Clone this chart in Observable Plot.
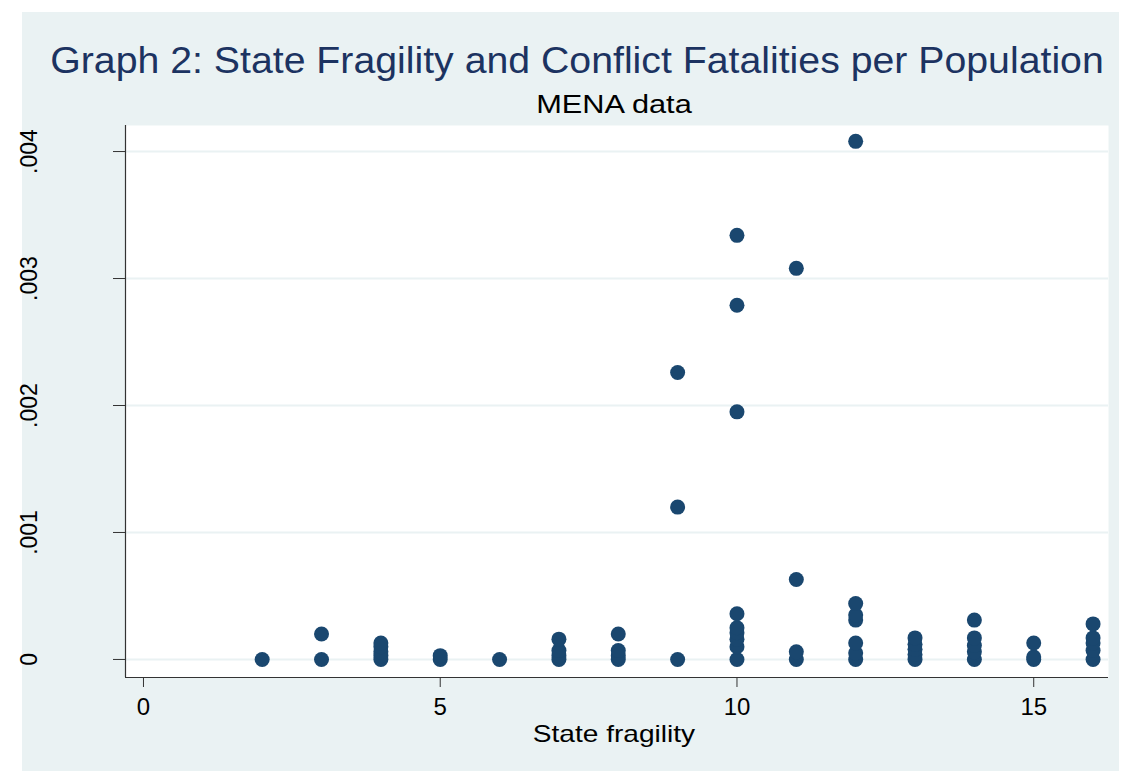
<!DOCTYPE html>
<html>
<head>
<meta charset="utf-8">
<script src="https://cdn.jsdelivr.net/npm/d3@7"></script>
<script src="https://cdn.jsdelivr.net/npm/@observablehq/plot@0.6"></script>
<style>
  html, body { margin: 0; padding: 0; background: #ffffff; }
  body { width: 1124px; height: 773px; position: relative; overflow: hidden; font-family: "Liberation Sans", Arial, sans-serif; }
  #bg { position: absolute; left: 22px; top: 12px; width: 1097px; height: 759px; background: #eaf2f3; }
  #chart { position: absolute; left: 0; top: 0; }
  .txt { position: absolute; white-space: nowrap; line-height: 1; }
  #title { left: 577px; top: 42.5px; font-size: 36px; color: #1c3361; transform: translateX(-50%) scaleX(1.09); }
  #subtitle { left: 614px; top: 92px; font-size: 25px; color: #000; transform: translateX(-50%) scaleX(1.23); }
  #xlabel { left: 614px; top: 722px; font-size: 24px; color: #000; transform: translateX(-50%) scaleX(1.17); }
</style>
</head>
<body>
<div id="bg"></div>
<div id="chart"></div>
<div class="txt" id="title">Graph 2: State Fragility and Conflict Fatalities per Population</div>
<div class="txt" id="subtitle">MENA data</div>
<div class="txt" id="xlabel">State fragility</div>
<script>
// State fragility index (x) and conflict fatalities per population (y)
const fragility = [
  2,
  3, 3,
  4, 4, 4, 4, 4,
  5, 5,
  6,
  7, 7, 7, 7,
  8, 8, 8, 8,
  9, 9, 9,
  10, 10, 10, 10, 10, 10, 10, 10, 10,
  11, 11, 11, 11,
  12, 12, 12, 12, 12, 12, 12,
  13, 13, 13, 13, 13,
  14, 14, 14, 14, 14,
  15, 15, 15,
  16, 16, 16, 16, 16
];
const fatalities = [
  0,
  0, 0.00020,
  0, 0.00003, 0.00006, 0.00010, 0.00013,
  0, 0.00003,
  0,
  0, 0.00003, 0.00007, 0.00016,
  0, 0.00003, 0.00007, 0.00020,
  0, 0.00120, 0.00226,
  0, 0.00010, 0.00016, 0.00021, 0.00025, 0.00036, 0.00195, 0.00279, 0.00334,
  0, 0.00006, 0.00063, 0.00308,
  0, 0.00005, 0.00013, 0.00031, 0.00035, 0.00044, 0.00408,
  0, 0.00004, 0.00008, 0.00012, 0.00017,
  0, 0.00006, 0.00011, 0.00017, 0.00031,
  0, 0.00002, 0.00013,
  0, 0.00007, 0.00013, 0.00017, 0.00028
];
const xTicks = [0, 5, 10, 15];
const yTicks = [0, 0.001, 0.002, 0.003, 0.004];
const yTickLabels = ["0", ".001", ".002", ".003", ".004"];

const data = fragility.map((f, i) => ({ f, v: fatalities[i] }));
const yLab = yTicks.map((t, i) => ({ t, label: yTickLabels[i] }));

const xDomain = [-0.303, 16.26];
const yDomain = [-0.000142, 0.004205];

const chart = Plot.plot({
  width: 1124,
  height: 773,
  marginLeft: 125,
  marginRight: 16,
  marginTop: 125,
  marginBottom: 96,
  style: { background: "transparent", fontFamily: "'Liberation Sans', Arial, sans-serif" },
  x: { domain: xDomain, label: null },
  y: { domain: yDomain, label: null },
  marks: [
    Plot.frame({ fill: "#ffffff", stroke: null }),
    Plot.gridY(yTicks, { stroke: "#eaf2f3", strokeOpacity: 1, strokeWidth: 2 }),
    Plot.ruleX([xDomain[0]], { stroke: "#333333", strokeWidth: 1.2 }),
    Plot.ruleY([yDomain[0]], { stroke: "#333333", strokeWidth: 1.2 }),
    Plot.axisX({ ticks: xTicks, tickSize: 10, tickPadding: 10, fontSize: 24, stroke: "#333", label: null, tickFormat: d => String(d), color: "#000" }),
    Plot.axisY({ ticks: yTicks, tickSize: 12, tickFormat: () => "", label: null, stroke: "#333" }),
    Plot.text(yLab, { y: "t", text: "label", frameAnchor: "left", dx: -96, rotate: -90, textAnchor: "middle", lineAnchor: "middle", fontSize: 23, fill: "#000" }),
    Plot.dot(data, { x: "f", y: "v", r: 7.5, fill: "#1a476f", stroke: null })
  ]
});
document.getElementById("chart").appendChild(chart);
</script>
</body>
</html>
